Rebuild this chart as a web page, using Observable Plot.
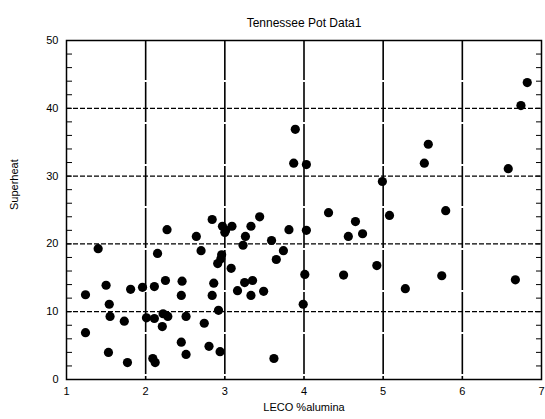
<!DOCTYPE html>
<html>
<head>
<meta charset="utf-8">
<script src="https://cdn.jsdelivr.net/npm/d3@7"></script>
<script src="https://cdn.jsdelivr.net/npm/@observablehq/plot@0.6"></script>
<style>
  body { margin: 0; background: #fff; }
  svg { font-family: Arial, "Liberation Sans", sans-serif; }
</style>
</head>
<body>
<div id="chart"></div>
<script>
const alumina = [
  1.24, 1.24, 1.40, 1.50, 1.54, 1.55, 1.53, 1.73, 1.77, 1.81, 1.96, 2.01, 2.11,
  2.09, 2.12, 2.11, 2.15, 2.22, 2.21, 2.25, 2.27, 2.28, 2.45, 2.46, 2.45, 2.51,
  2.51, 2.64, 2.70, 2.74, 2.84, 2.84, 2.86, 2.80, 2.91, 2.95, 2.96, 2.92, 2.94,
  2.97, 3.01, 3.00, 3.09, 3.08, 3.16, 3.25, 3.23, 3.26, 3.33, 3.33, 3.35, 3.44,
  3.49, 3.59, 3.62, 3.65, 3.74, 3.81, 3.89, 3.87, 4.03, 4.03, 4.01, 3.99, 4.31,
  4.50, 4.56, 4.65, 4.74, 4.92, 4.99, 5.08, 5.28, 5.52, 5.57, 5.74, 5.79, 6.58,
  6.67, 6.74, 6.82
];
const superheat = [
  12.5, 6.9, 19.3, 13.9, 11.1, 9.3, 4.0, 8.6, 2.5, 13.3, 13.6, 9.1, 9.0,
  3.1, 2.5, 13.7, 18.6, 9.7, 7.8, 14.6, 22.1, 9.3, 12.4, 14.5, 5.5, 9.3,
  3.7, 21.1, 19.0, 8.3, 23.6, 12.4, 14.2, 4.9, 17.1, 17.8, 18.4, 10.2, 4.1,
  22.6, 22.0, 21.7, 22.6, 16.4, 13.1, 14.3, 19.8, 21.1, 22.6, 12.4, 14.6, 24.0,
  13.0, 20.5, 3.1, 17.7, 19.0, 22.1, 36.9, 31.9, 31.7, 22.0, 15.5, 11.1, 24.6,
  15.4, 21.1, 23.3, 21.5, 16.8, 29.2, 24.2, 13.4, 31.9, 34.7, 15.3, 24.9, 31.1,
  14.7, 40.4, 43.8
];
const xTicks = [1, 2, 3, 4, 5, 6, 7];
const yTicks = [0, 10, 20, 30, 40, 50];
const yMinor = d3.range(0, 51, 2);
const xGrid = [2, 3, 4, 5, 6];
const yGrid = [10, 20, 30, 40];

const data = alumina.map((x, i) => ({ x, y: superheat[i] }));

document.getElementById("chart").appendChild(
  Plot.plot({
    width: 545,
    height: 419,
    marginTop: 40,
    marginBottom: 40,
    marginLeft: 66,
    marginRight: 4,
    style: { fontSize: "11px", color: "#000" },
    x: { type: "linear", domain: [1, 7] },
    y: { type: "linear", domain: [0, 50] },
    marks: [
      Plot.ruleX(xGrid, { stroke: "#000", strokeWidth: 1.6, strokeDasharray: "40,2" }),
      Plot.ruleY(yGrid, { stroke: "#000", strokeWidth: 1.2, strokeDasharray: "5,2" }),
      Plot.frame({ stroke: "#000", strokeWidth: 1.5 }),
      Plot.axisX({ ticks: xTicks, tickFormat: "d", tickSize: 0, tickPadding: 8, label: null }),
      Plot.axisY({ ticks: yTicks, tickFormat: "d", tickSize: 0, tickPadding: 8, label: null }),
      Plot.axisY({ ticks: yMinor, anchor: "right", tickSize: -6, tickFormat: () => "", label: null }),
      Plot.axisY({ ticks: yMinor, anchor: "left", tickSize: -6, tickFormat: () => "", label: null }),
      Plot.dot(data, { x: "x", y: "y", r: 4.6, fill: "#000", stroke: "none" }),
      Plot.text(["Tennessee Pot Data1"], { frameAnchor: "top", dy: -22, fontSize: 12 }),
      Plot.text(["LECO %alumina"], { frameAnchor: "bottom", dy: 31, fontSize: 11 }),
      Plot.text(["Superheat"], { frameAnchor: "left", dx: -52, rotate: -90, fontSize: 11 })
    ]
  })
);
</script>
</body>
</html>
